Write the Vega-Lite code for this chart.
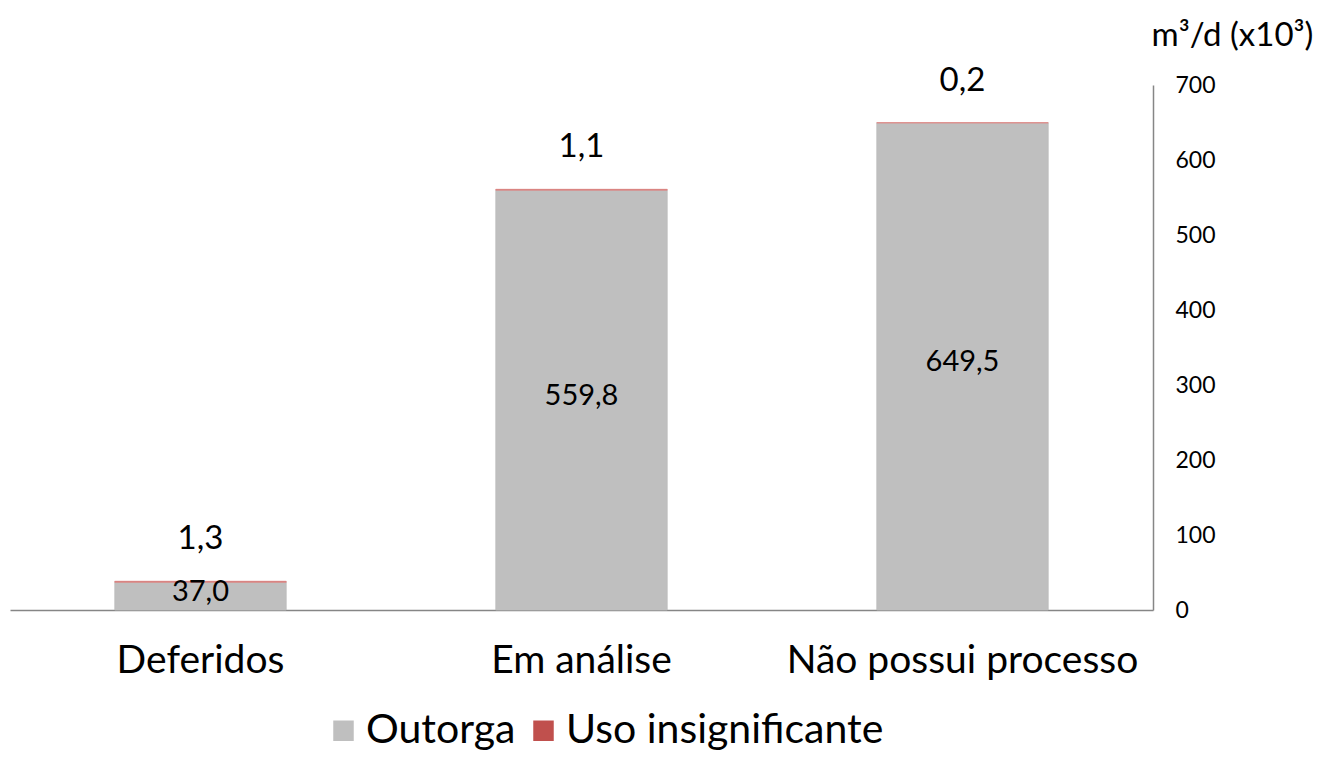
{
  "$schema": "https://vega.github.io/schema/vega-lite/v6.json",
  "autosize": {"type": "none"},
  "width": 1143,
  "height": 525,
  "padding": {"left": 10, "top": 85, "right": 169, "bottom": 151},
  "background": "white",
  "config": {
    "locale": {"number": {"decimal": ",", "thousands": ".", "grouping": [3], "currency": ["R$", ""]}},
    "font": "Lato",
    "view": {"stroke": null}
  },
  "data": {
    "values": [
      {"cat": "Deferidos", "tipo": "Outorga", "value": 37.0},
      {"cat": "Deferidos", "tipo": "Uso insignificante", "value": 1.3},
      {"cat": "Em análise", "tipo": "Outorga", "value": 559.8},
      {"cat": "Em análise", "tipo": "Uso insignificante", "value": 1.1},
      {"cat": "Não possui processo", "tipo": "Outorga", "value": 649.5},
      {"cat": "Não possui processo", "tipo": "Uso insignificante", "value": 0.2}
    ]
  },
  "encoding": {
    "x": {
      "field": "cat", "type": "nominal", "sort": null,
      "scale": {"paddingInner": 0.55, "paddingOuter": 0.275},
      "axis": {
        "title": null, "labelAngle": 0, "labelFontSize": 39, "labelColor": "#000000",
        "labelPadding": 31, "ticks": false, "domainColor": "#868686", "domainWidth": 1.5,
        "labelLimit": 600
      }
    }
  },
  "layer": [
    {
      "mark": {"type": "bar", "strokeWidth": 0.8},
      "encoding": {
        "y": {
          "field": "value", "type": "quantitative", "stack": "zero",
          "scale": {"domain": [0, 700], "nice": false},
          "axis": {
            "orient": "right", "values": [0, 100, 200, 300, 400, 500, 600, 700],
            "grid": false, "ticks": false, "labelFontSize": 23, "labelColor": "#000000",
            "labelPadding": 22, "labelAlign": "left", "domainColor": "#868686", "domainWidth": 1.5,
            "title": "m³/d (x10³)", "titleAngle": 0, "titleFontSize": 33, "titleFontWeight": "normal",
            "titleColor": "#000000", "titleAlign": "left", "titleBaseline": "middle",
            "titleX": -2, "titleY": -50
          }
        },
        "color": {
          "field": "tipo", "type": "nominal",
          "scale": {"domain": ["Outorga", "Uso insignificante"], "range": ["#BFBFBF", "#C0504D"]},
          "legend": {
            "title": null, "orient": "none", "direction": "horizontal",
            "legendX": 313, "legendY": 625, "symbolType": "square", "symbolSize": 420,
            "symbolStrokeWidth": 0, "labelFontSize": 41, "labelColor": "#000000",
            "labelOffset": 2, "columnPadding": 7, "labelLimit": 500
          }
        },
        "stroke": {
          "field": "tipo", "type": "nominal", "legend": null,
          "scale": {"domain": ["Outorga", "Uso insignificante"], "range": ["#BFBFBF", "#E08A88"]}
        },
        "order": {"field": "tipo", "sort": "ascending"}
      }
    },
    {
      "transform": [
        {"filter": "datum.tipo === 'Outorga'"},
        {"calculate": "datum.value / 2", "as": "mid"}
      ],
      "mark": {"type": "text", "fontSize": 29, "color": "#000000", "baseline": "middle", "dy": -4},
      "encoding": {
        "y": {"field": "mid", "type": "quantitative"},
        "text": {"field": "value", "type": "quantitative", "format": ".1f"}
      }
    },
    {
      "transform": [
        {"joinaggregate": [{"op": "sum", "field": "value", "as": "total"}], "groupby": ["cat"]},
        {"filter": "datum.tipo === 'Uso insignificante'"}
      ],
      "mark": {"type": "text", "fontSize": 33, "color": "#000000", "baseline": "middle", "dy": -42},
      "encoding": {
        "y": {"field": "total", "type": "quantitative"},
        "text": {"field": "value", "type": "quantitative", "format": ".1f"}
      }
    }
  ]
}
